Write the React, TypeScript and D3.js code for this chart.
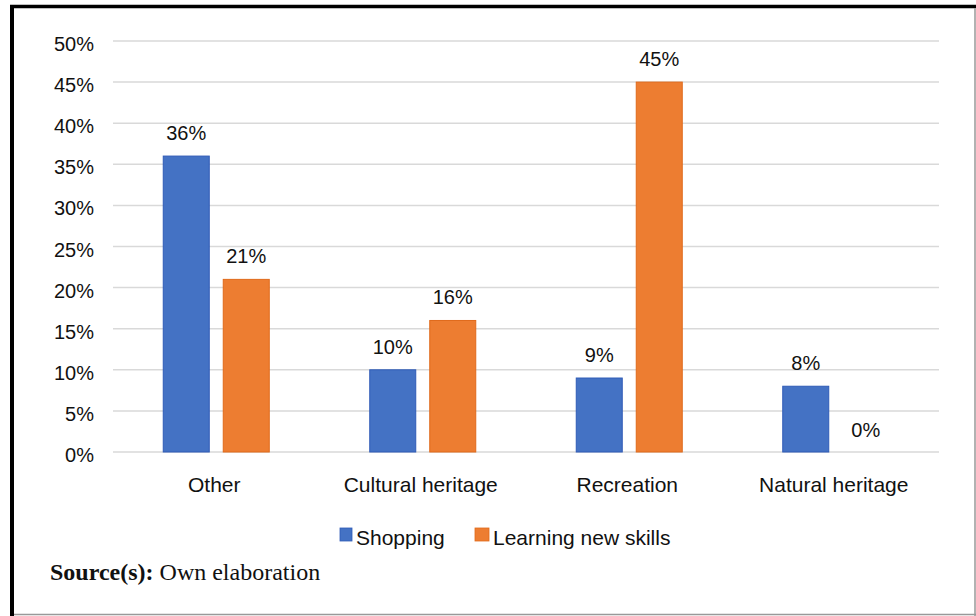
import { useEffect, useRef } from 'react';
import * as d3 from 'd3';

const categories = ['Other', 'Cultural heritage', 'Recreation', 'Natural heritage'];
const seriesNames = ['Shopping', 'Learning new skills'];
const shopping = [36, 10, 9, 8];
const learning = [21, 16, 45, 0];
const yTicks = [0, 5, 10, 15, 20, 25, 30, 35, 40, 45, 50];
const colors = ['#4472C4', '#ED7D31'];
const strokes = ['#2f5bb7', '#e06a1b'];

export default function App() {
  const svgRef = useRef<SVGSVGElement>(null);

  useEffect(() => {
    if (!svgRef.current) return;
    const svg = d3.select(svgRef.current);
    svg.selectAll('*').remove();

    const width = 976;
    const height = 616;
    const plot = { left: 113, right: 939, top: 41, bottom: 452 };
    const font = 'Arial, "Liberation Sans", sans-serif';

    svg.append('rect').attr('width', width).attr('height', height).attr('fill', '#fff');

    // frame: heavy black top/left, thin grey right/bottom
    svg.append('line').attr('x1', 10).attr('x2', 976).attr('y1', 6.5).attr('y2', 6.5)
      .attr('stroke', '#000').attr('stroke-width', 3.5);
    svg.append('line').attr('x1', 12).attr('x2', 12).attr('y1', 5).attr('y2', 616)
      .attr('stroke', '#000').attr('stroke-width', 4);
    svg.append('line').attr('x1', 975).attr('x2', 975).attr('y1', 8).attr('y2', 616)
      .attr('stroke', '#999').attr('stroke-width', 1.5);
    svg.append('line').attr('x1', 14).attr('x2', 976).attr('y1', 614.5).attr('y2', 614.5)
      .attr('stroke', '#999').attr('stroke-width', 1.5);

    const y = d3.scaleLinear().domain([0, 50]).range([plot.bottom, plot.top]);
    const x0 = d3.scaleBand().domain(categories).range([plot.left, plot.right]).padding(0);
    const barW = 46;
    const gap = 14;
    const x1 = d3.scaleOrdinal<string, number>()
      .domain(seriesNames)
      .range([-(barW + gap / 2), gap / 2]);

    // gridlines
    svg.append('g').selectAll('line').data(yTicks).join('line')
      .attr('x1', plot.left).attr('x2', plot.right)
      .attr('y1', (d) => y(d)).attr('y2', (d) => y(d))
      .attr('stroke', '#d9d9d9').attr('stroke-width', 1.5);

    // y tick labels
    svg.append('g').selectAll('text').data(yTicks).join('text')
      .attr('x', 94).attr('y', (d) => y(d)).attr('dy', '0.5em')
      .attr('text-anchor', 'end').attr('font-family', font).attr('font-size', 20)
      .attr('fill', '#111').text((d) => `${d}%`);

    const series = [shopping, learning];
    series.forEach((vals, si) => {
      const g = svg.append('g');
      const cx = (i: number) => (x0(categories[i]) || 0) + x0.bandwidth() / 2 + x1(seriesNames[si]);
      g.selectAll('rect').data(vals).join('rect')
        .attr('x', (_, i) => cx(i))
        .attr('y', (d) => y(d))
        .attr('width', barW)
        .attr('height', (d) => y(0) - y(d))
        .attr('fill', colors[si])
        .attr('stroke', strokes[si]).attr('stroke-width', (d) => (d > 0 ? 1 : 0));
      g.selectAll('text').data(vals).join('text')
        .attr('x', (_, i) => cx(i) + barW / 2)
        .attr('y', (d) => (d > 0 ? y(d) - 16 : y(0) - 15))
        .attr('text-anchor', 'middle').attr('font-family', font).attr('font-size', 20)
        .attr('fill', '#111').text((d) => `${d}%`);
    });

    // category labels
    svg.append('g').selectAll('text').data(categories).join('text')
      .attr('x', (d) => (x0(d) || 0) + x0.bandwidth() / 2 - 2)
      .attr('y', 492).attr('text-anchor', 'middle')
      .attr('font-family', font).attr('font-size', 21).attr('fill', '#111').text((d) => d);

    // legend
    const legendX = [340, 475];
    seriesNames.forEach((name, i) => {
      svg.append('rect').attr('x', legendX[i]).attr('y', 528).attr('width', i === 0 ? 12 : 14).attr('height', 13)
        .attr('fill', colors[i]).attr('stroke', strokes[i]).attr('stroke-width', 0.8);
      svg.append('text').attr('x', legendX[i] + (i === 0 ? 16 : 18)).attr('y', 545)
        .attr('font-family', font).attr('font-size', 21).attr('fill', '#111').text(name);
    });

    // source note
    const src = svg.append('text').attr('x', 50).attr('y', 580)
      .attr('font-family', '"Liberation Serif", "Times New Roman", serif').attr('font-size', 24).attr('fill', '#111');
    src.append('tspan').attr('font-weight', 'bold').text('Source(s):');
    src.append('tspan').text(' Own elaboration');
  }, []);

  return (
    <svg
      ref={svgRef}
      width={976}
      height={616}
      style={{ position: 'absolute', top: 0, left: 0, display: 'block' }}
    />
  );
}
